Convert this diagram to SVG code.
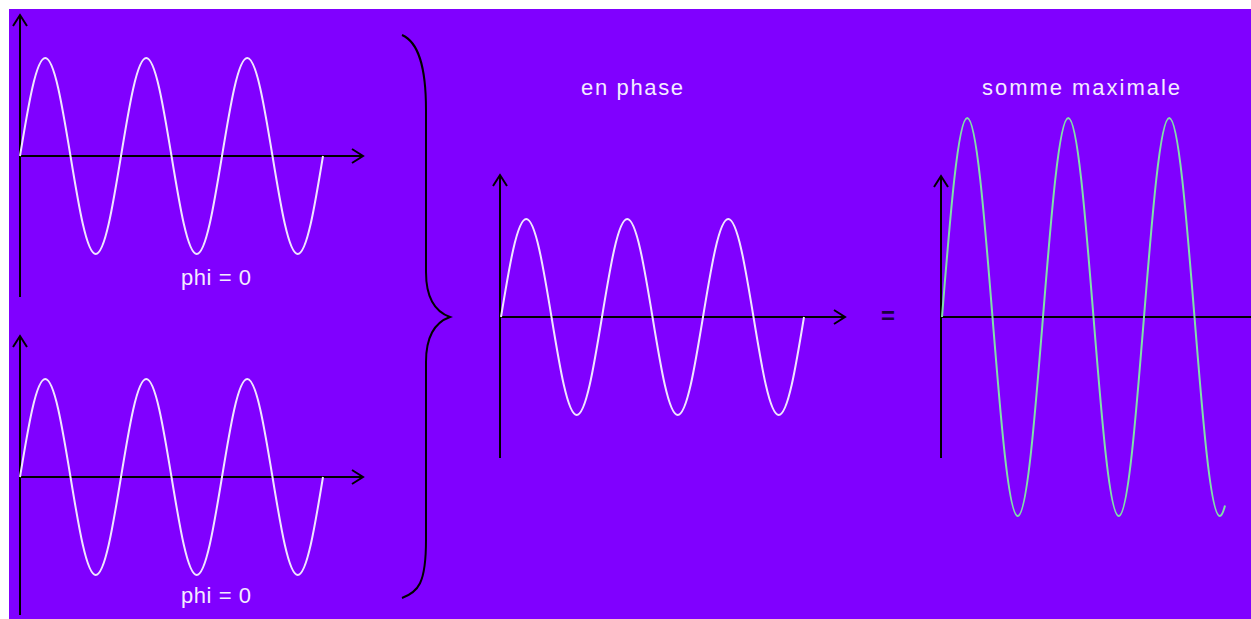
<svg xmlns="http://www.w3.org/2000/svg" width="1251" height="619" viewBox="0 0 1251 619">
<style>
.ax{stroke:#000;stroke-width:2;fill:none}
.ah{stroke:#000;stroke-width:2;fill:none;stroke-linejoin:miter}
.w{stroke:#F0E6FF;stroke-width:2;fill:none}
.g{stroke:#80E0A8;stroke-width:2;fill:none}
.t{font-family:"Liberation Sans",Arial,sans-serif;font-size:22px;fill:#F4ECFF;text-anchor:middle}
</style>
<defs>
<path id="wave3" d="M0,0 c8.24,-50.2 16.11,-98 25.25,-98 s17.01,47.8 25.25,98 s16.11,98 25.25,98 s17.01,-47.8 25.25,-98 s16.11,-98 25.25,-98 s17.01,47.8 25.25,98 s16.11,98 25.25,98 s17.01,-47.8 25.25,-98 s16.11,-98 25.25,-98 s17.01,47.8 25.25,98 s16.11,98 25.25,98 s17.01,-47.8 25.25,-98"/>
</defs>
<rect x="0" y="0" width="1251" height="619" fill="#fff"/>
<rect x="9" y="9" width="1242" height="610" fill="#8000FF"/>
<g id="panel-top">
<path class="ax" d="M20,16 V297 M20,156 H362"/>
<path class="ah" d="M13,26 L20,15 L27,26 M352,149 L363,156 L352,163"/>
<use href="#wave3" x="20" y="156" class="w"/>
<text class="t" x="216" y="285" textLength="70">phi = 0</text>
</g>
<g id="panel-bottom">
<path class="ax" d="M20,337 V615 M20,477 H362"/>
<path class="ah" d="M13,347 L20,336 L27,347 M352,470 L363,477 L352,484"/>
<use href="#wave3" x="20" y="477" class="w"/>
<text class="t" x="216" y="603" textLength="70">phi = 0</text>
</g>
<g id="brace">
<path class="ax" d="M402,35 C418,42 426,65 426,110 L426,272 C426,300 436,312 450,317 C436,322 426,334 426,362 L426,540 C426,584 418,592 402,598"/>
</g>
<g id="panel-middle">
<path class="ax" d="M500,176 V458 M500,317 H844"/>
<path class="ah" d="M493,186 L500,175 L507,186 M834,310 L845,317 L834,324"/>
<use href="#wave3" x="501" y="317" class="w"/>
<text class="t" x="632" y="95" textLength="102">en phase</text>
</g>
<g id="equals">
<text x="888" y="324" font-family="Liberation Sans, Arial, sans-serif" font-size="24" font-weight="bold" fill="#1a0040" text-anchor="middle">=</text>
</g>
<g id="panel-right">
<path class="ax" d="M941,177 V458 M941,317 H1251"/>
<path class="ah" d="M934,187 L941,176 L948,187"/>
<path class="g" d="M942,317 c8.24,-102 16.11,-199 25.25,-199 s17.01,97 25.25,199 s16.11,199 25.25,199 s17.01,-97 25.25,-199 s16.11,-199 25.25,-199 s17.01,97 25.25,199 s16.11,199 25.25,199 s17.01,-97 25.25,-199 s16.11,-199 25.25,-199 s17.01,97 25.25,199 s16.11,199 25.25,199 q2.6,0 5.25,-10.6"/>
<text class="t" x="1081" y="95" textLength="198">somme maximale</text>
</g>
</svg>
